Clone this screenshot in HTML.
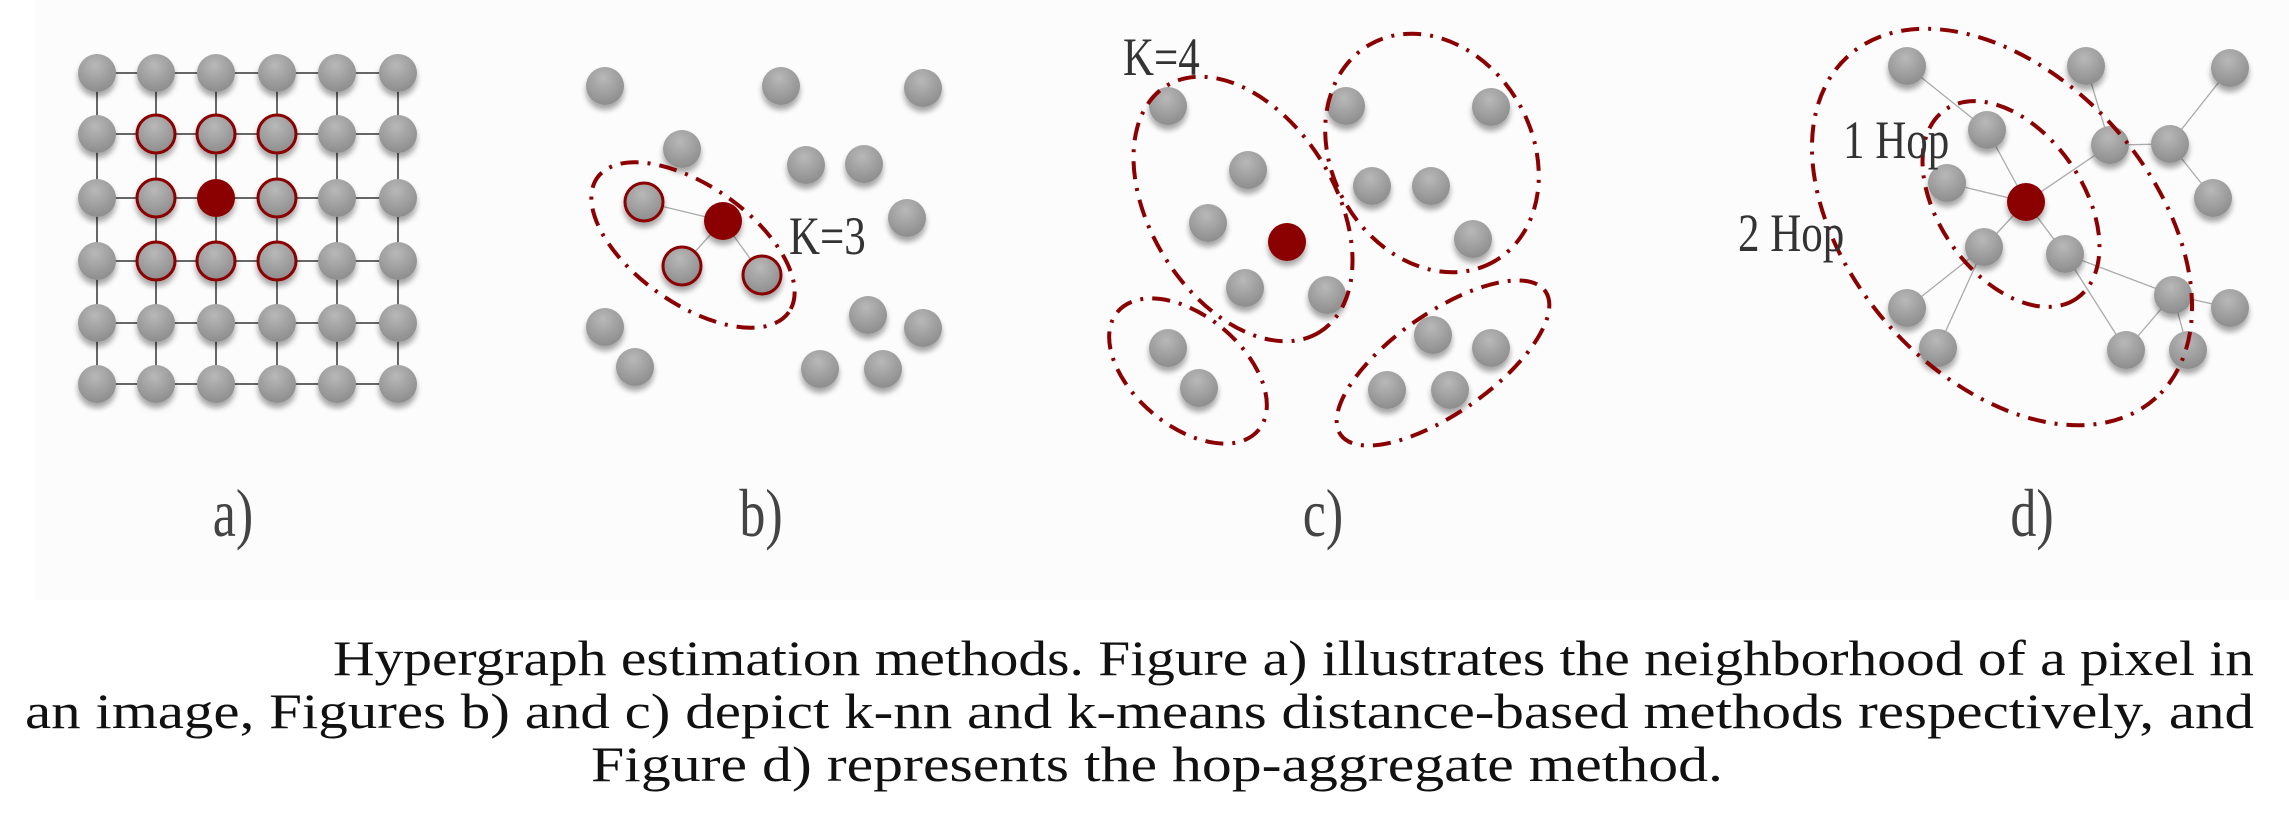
<!DOCTYPE html>
<html><head><meta charset="utf-8"><style>
html,body{margin:0;padding:0;background:#fff;}
svg{display:block;}
text{font-family:"Liberation Serif",serif;}
</style></head><body>
<svg id="fig" width="2289" height="827" viewBox="0 0 2289 827" xmlns="http://www.w3.org/2000/svg">
<defs>
<radialGradient id="g" cx="0.45" cy="0.3" r="0.75"><stop offset="0" stop-color="#b8b8b8"/><stop offset="1" stop-color="#8a8a8a"/></radialGradient>
<filter id="sh" x="-50%" y="-50%" width="200%" height="200%"><feGaussianBlur in="SourceAlpha" stdDeviation="3"/><feOffset dy="5"/><feComponentTransfer><feFuncA type="linear" slope="0.35"/></feComponentTransfer><feMerge><feMergeNode/><feMergeNode in="SourceGraphic"/></feMerge></filter>
</defs>
<rect x="35" y="0" width="2254" height="600" fill="#fcfcfc"/>
<g id="edges" stroke="#666" stroke-width="2"></g>
<g id="dedges" stroke="#aaa" stroke-width="1.3"></g>
<g id="nodes"></g>
<g id="ells" fill="none" stroke="#8b0000" stroke-width="4" stroke-dasharray="18 9 3 9"></g>
<g fill="#333" font-size="43">
<text transform="translate(789 254) scale(1 1.25)">K=3</text>
<text transform="translate(1123 75) scale(1 1.25)">K=4</text>
<text transform="translate(1843 158) scale(1 1.25)">1 Hop</text>
<text transform="translate(1738 251) scale(1 1.25)">2 Hop</text>
</g>
<g fill="#444" font-size="52" text-anchor="middle">
<text transform="translate(233 536) scale(1 1.3)">a)</text>
<text transform="translate(761 536) scale(1 1.3)">b)</text>
<text transform="translate(1323 536) scale(1 1.3)">c)</text>
<text transform="translate(2032 536) scale(1 1.3)">d)</text>
</g>
<g fill="#111" font-size="50">
<text x="333" y="675" textLength="1921" lengthAdjust="spacingAndGlyphs">Hypergraph estimation methods. Figure a) illustrates the neighborhood of a pixel in</text>
<text x="25" y="728" textLength="2229" lengthAdjust="spacingAndGlyphs">an image, Figures b) and c) depict k-nn and k-means distance-based methods respectively, and</text>
<text x="591" y="781" textLength="1132" lengthAdjust="spacingAndGlyphs">Figure d) represents the hop-aggregate method.</text>
</g>
</svg>
<script>
const NS="http://www.w3.org/2000/svg";
const gx=[97,156,216,277,337,398], gy=[73,134,198,261,323,384];
const E=document.getElementById('edges'), N=document.getElementById('nodes'), L=document.getElementById('ells'), D=document.getElementById('dedges');
function line(p,a,b,c,d){const l=document.createElementNS(NS,'line');l.setAttribute('x1',a);l.setAttribute('y1',b);l.setAttribute('x2',c);l.setAttribute('y2',d);


p.appendChild(l);}
function node(x,y,t){const c=document.createElementNS(NS,'circle');c.setAttribute('cx',x);c.setAttribute('cy',y);c.setAttribute('r',19);c.setAttribute('filter','url(#sh)');
if(t==2){c.setAttribute('fill','#8b0000');}else{c.setAttribute('fill','url(#g)');}
if(t==1){c.setAttribute('stroke','#8b0000');c.setAttribute('stroke-width','3');}


N.appendChild(c);}
function ell(cx,cy,a,b,th){const e=document.createElementNS(NS,'ellipse');e.setAttribute('cx',cx);e.setAttribute('cy',cy);e.setAttribute('rx',a);e.setAttribute('ry',b);e.setAttribute('transform','rotate('+th+' '+cx+' '+cy+')');


L.appendChild(e);}
gy.forEach(y=>line(E,gx[0],y,gx[5],y));
gx.forEach(x=>line(E,x,gy[0],x,gy[5]));
gy.forEach((y,r)=>gx.forEach((x,c)=>{let t=0;if(r>=1&&r<=3&&c>=1&&c<=3)t=(r==2&&c==2)?2:1;node(x,y,t);}));
line(D,644,202,723,221);line(D,682,266,723,221);line(D,762,275,723,221);
[[605,86],[781,86],[923,88],[682,149],[806,165],[864,164],[907,218],[605,327],[635,367],[868,315],[923,328],[820,369],[883,369]].forEach(p=>node(p[0],p[1],0));
[[644,202],[682,266],[762,275]].forEach(p=>node(p[0],p[1],1));
node(723,221,2);
ell(693,245,117,59,35);
[[1168,106],[1248,170],[1208,223],[1245,288],[1327,295],[1346,106],[1491,107],[1372,186],[1431,186],[1473,239],[1168,348],[1199,388],[1433,335],[1491,348],[1387,390],[1450,390]].forEach(p=>node(p[0],p[1],0));
node(1287,242,2);
ell(1243,209,145,92,58);ell(1432,153,125,100,60);ell(1188,371,92,55,40);ell(1443,363,125,50,-35);
const dn=[[1907,66],[2086,66],[2230,68],[1987,130],[2110,145],[2170,144],[2213,198],[1947,183],[2026,202],[1984,247],[2065,254],[1907,308],[1938,348],[2173,295],[2230,308],[2126,350],[2188,350]];
const de=[[0,3],[3,8],[8,4],[4,1],[4,5],[5,2],[5,6],[8,7],[8,9],[8,10],[9,11],[9,12],[10,13],[10,15],[13,14],[13,15],[13,16]];
de.forEach(e=>line(D,dn[e[0]][0],dn[e[0]][1],dn[e[1]][0],dn[e[1]][1]));
dn.forEach((p,i)=>node(p[0],p[1],i==8?2:0));
ell(2002,227,230,150,48);ell(2011,204,115,72,55);
</script>
</body></html>
